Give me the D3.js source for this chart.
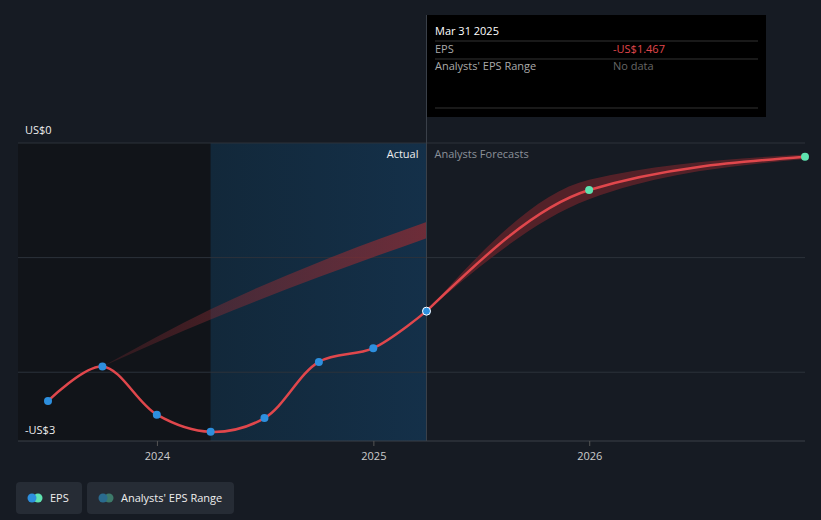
<!DOCTYPE html><html><head><meta charset="utf-8"><script src="https://cdn.jsdelivr.net/npm/d3@7"></script>
<style>body{margin:0;background:#161b23;font-family:"Open Sans",Roboto,sans-serif}</style></head><body><svg id="c" width="821" height="520"></svg><script>
const epsDates=["2023-06-30","2023-09-30","2023-12-31","2024-03-31","2024-06-30","2024-09-30","2024-12-31","2025-03-31"];
const epsValues=[-2.25,-1.95,-2.37,-2.52,-2.40,-1.91,-1.79,-1.467];
const fcDates=["2025-03-31","2025-12-31","2026-12-31"];
const fcValues=[-1.467,-0.41,-0.12];
const fcLow=[-1.467,-0.49,-0.14];
const fcHigh=[-1.467,-0.32,-0.10];
const rangeDates=["2023-09-30","2024-03-31","2024-09-30","2025-03-31"];
const rangeLow=[-1.95,-1.54,-1.17,-0.83];
const rangeHigh=[-1.95,-1.45,-1.04,-0.69];
const xTicks=["2024","2025","2026"];
const yLabels=["US$0","-US$3"];
const p=d3.timeParse("%Y-%m-%d");
const svg=d3.select("#c");
const x=d3.scaleTime().domain([p("2023-06-30"),p("2026-12-31")]).range([48,805]);
const y=d3.scaleLinear().domain([0,-2.6]).range([143,441]);
const defs=svg.append("defs");
const g=defs.append("linearGradient").attr("id","hl").attr("x1",0).attr("x2",1);
g.append("stop").attr("offset",0).attr("stop-color","#12283a");
g.append("stop").attr("offset",1).attr("stop-color","#143049");
const bg=defs.append("linearGradient").attr("id","band").attr("x1",0).attr("x2",1);
bg.append("stop").attr("offset",0).attr("stop-color","#8b2c33").attr("stop-opacity",0.25);
bg.append("stop").attr("offset",1).attr("stop-color","#8b2c33").attr("stop-opacity",0.75);
svg.append("rect").attr("x",18).attr("y",143).attr("width",x(p("2024-03-31"))-18).attr("height",298).attr("fill","#111419");
svg.append("rect").attr("x",x(p("2024-03-31"))).attr("y",143).attr("width",x(p("2025-03-31"))-x(p("2024-03-31"))).attr("height",298).attr("fill","url(#hl)");
[0,-1,-2].forEach(v=>svg.append("line").attr("x1",18).attr("x2",805).attr("y1",y(v)).attr("y2",y(v)).attr("stroke","#2c323b"));
svg.append("line").attr("x1",18).attr("x2",805).attr("y1",441).attr("y2",441).attr("stroke","#3a4049");
xTicks.forEach(t=>{const xx=x(p(t+"-01-01"));svg.append("line").attr("x1",xx).attr("x2",xx).attr("y1",441).attr("y2",446).attr("stroke","#555");
svg.append("text").attr("x",xx).attr("y",460).attr("text-anchor","middle").attr("fill","#ccc").attr("font-size",11).text(t);});
svg.append("text").attr("x",25).attr("y",134).attr("fill","#eee").attr("font-size",11).text(yLabels[0]);
svg.append("text").attr("x",25).attr("y",434).attr("fill","#eee").attr("font-size",11).text(yLabels[1]);
const xa=x(p("2025-03-31"));
svg.append("text").attr("x",xa-8).attr("y",158).attr("text-anchor","end").attr("fill","#eee").attr("font-size",11).text("Actual");
svg.append("text").attr("x",xa+8).attr("y",158).attr("fill","#8b9199").attr("font-size",11).text("Analysts Forecasts");
const area=d3.area().x(d=>x(d.d)).y0(d=>y(d.l)).y1(d=>y(d.h)).curve(d3.curveMonotoneX);
svg.append("path").datum(rangeDates.map((d,i)=>({d:p(d),l:rangeLow[i],h:rangeHigh[i]}))).attr("d",area).attr("fill","url(#band)");
svg.append("path").datum(fcDates.map((d,i)=>({d:p(d),l:fcLow[i],h:fcHigh[i]}))).attr("d",area).attr("fill","#5a2229").attr("opacity",0.9);
const line=d3.line().x(d=>x(d.d)).y(d=>y(d.v));
const eps=epsDates.map((d,i)=>({d:p(d),v:epsValues[i]}));
const fc=fcDates.map((d,i)=>({d:p(d),v:fcValues[i]}));
svg.append("path").datum(eps).attr("d",line.curve(d3.curveCatmullRom)).attr("fill","none").attr("stroke","#e0474c").attr("stroke-width",2.5);
svg.append("path").datum(fc).attr("d",line.curve(d3.curveMonotoneX)).attr("fill","none").attr("stroke","#e0474c").attr("stroke-width",2.5);
svg.append("line").attr("x1",xa).attr("x2",xa).attr("y1",15).attr("y2",441).attr("stroke","#3a4049");
svg.selectAll(".e").data(eps).enter().append("circle").attr("cx",d=>x(d.d)).attr("cy",d=>y(d.v)).attr("r",4).attr("fill","#2d8fde");
svg.append("circle").attr("cx",xa).attr("cy",y(-1.467)).attr("r",4).attr("fill","#2d8fde").attr("stroke","#fff").attr("stroke-width",1);
svg.selectAll(".f").data(fc.slice(1)).enter().append("circle").attr("cx",d=>x(d.d)).attr("cy",d=>y(d.v)).attr("r",4).attr("fill","#5fe3b0");
svg.append("rect").attr("x",427).attr("y",15).attr("width",339).attr("height",102).attr("fill","#000");
svg.append("text").attr("x",435).attr("y",35).attr("fill","#fff").attr("font-size",11).text("Mar 31 2025");
[41,59,108].forEach(v=>svg.append("line").attr("x1",435).attr("x2",758).attr("y1",v).attr("y2",v).attr("stroke","#333"));
svg.append("text").attr("x",435).attr("y",53).attr("fill","#aaa").attr("font-size",11).text("EPS");
svg.append("text").attr("x",613).attr("y",53).attr("fill","#e0474c").attr("font-size",11).text("-US$1.467");
svg.append("text").attr("x",435).attr("y",70).attr("fill","#aaa").attr("font-size",11).text("Analysts' EPS Range");
svg.append("text").attr("x",613).attr("y",70).attr("fill","#666").attr("font-size",11).text("No data");
function leg(x0,w,c1,c2,t){svg.append("rect").attr("x",x0).attr("y",482).attr("width",w).attr("height",32).attr("rx",4).attr("fill","#262c35");
svg.append("circle").attr("cx",x0+22).attr("cy",498).attr("r",4.5).attr("fill",c2);
svg.append("circle").attr("cx",x0+16).attr("cy",498).attr("r",4.5).attr("fill",c1);
svg.append("text").attr("x",x0+34).attr("y",502).attr("fill","#eee").attr("font-size",11).text(t);}
leg(16,66,"#2d8fde","#5fe3b0","EPS");
leg(87,147,"#2a6b8f","#3d7a6a","Analysts' EPS Range");
</script></body></html>
